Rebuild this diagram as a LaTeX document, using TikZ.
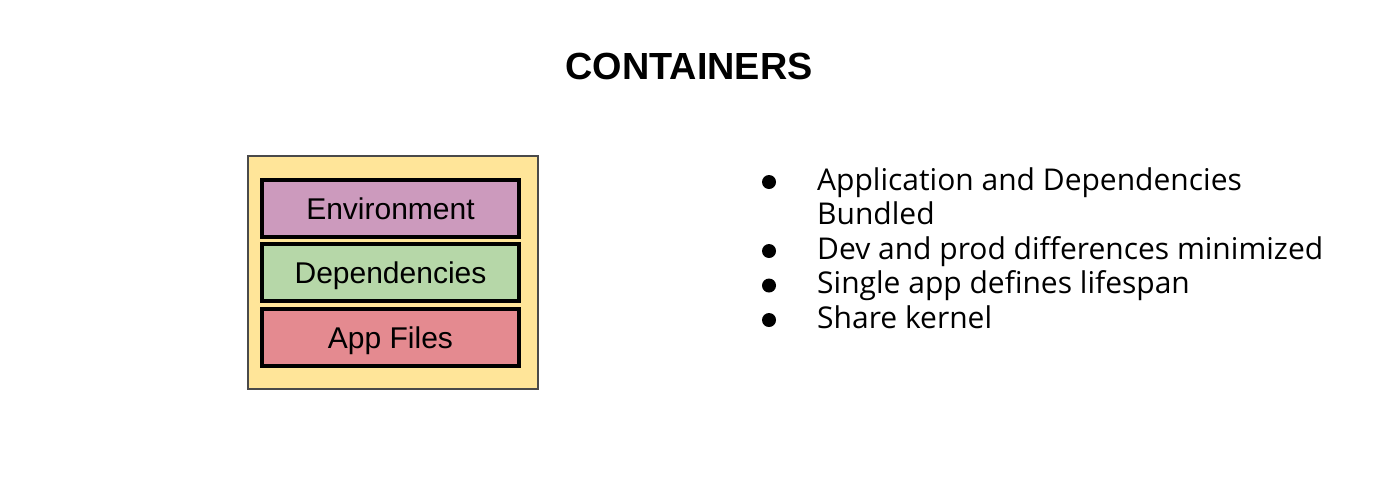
\documentclass[tikz,border=0pt]{standalone}
\usepackage{fontspec}
\setmainfont{Liberation Sans}
\newfontfamily\bulletfont{Open Sans}
\usepackage{tikz}
\usetikzlibrary{positioning}

\definecolor{boxyellow}{HTML}{FFE599}
\definecolor{boxgray}{HTML}{4A4A4A}
\definecolor{envpink}{HTML}{CC9ABD}
\definecolor{deppgreen}{HTML}{B6D7A8}
\definecolor{appred}{HTML}{E48A90}

\tikzset{
    layer/.style={draw=black, line width=4pt, minimum width=257pt, minimum height=57pt,
        inner sep=0pt, text height=21.5pt, text depth=0pt,
        font=\fontsize{30}{34}\selectfont},
    point/.style={anchor=base west, inner sep=0pt,
        font=\bulletfont\fontsize{30}{34}\selectfont}
}

\begin{document}
\begin{tikzpicture}[x=1pt, y=-1pt]
    \useasboundingbox (0, 0) rectangle (1383, 480);

    % Title
    \node[font=\bfseries\fontsize{37.8}{40}\selectfont, text height=27pt, text depth=0pt,
        inner sep=0pt] (title) at (689, 65.5) {CONTAINERS};

    % The container with its layers
    \draw[fill=boxyellow, draw=boxgray, line width=2.5pt] (248, 156) rectangle (538, 389);
    \node[layer, fill=envpink] (env) at (390.5, 208.5) {Environment};
    \node[layer, fill=deppgreen] (dep) at (390.5, 272.5) {Dependencies};
    \node[layer, fill=appred] (app) at (390.5, 337.5) {App Files};

    % Bullet points
    \node[point] (p1) at (817, 190) {Application and Dependencies};
    \node[point] (p1b) at (817, 224.5) {Bundled};
    \node[point] (p2) at (817, 259) {Dev and prod differences minimized};
    \node[point] (p3) at (817, 293.5) {Single app defines lifespan};
    \node[point] (p4) at (817, 328) {Share kernel};
    \foreach \y in {190, 259, 293.5, 328} {
        \fill (769, \y-8) circle (7);
    }
\end{tikzpicture}
\end{document}
